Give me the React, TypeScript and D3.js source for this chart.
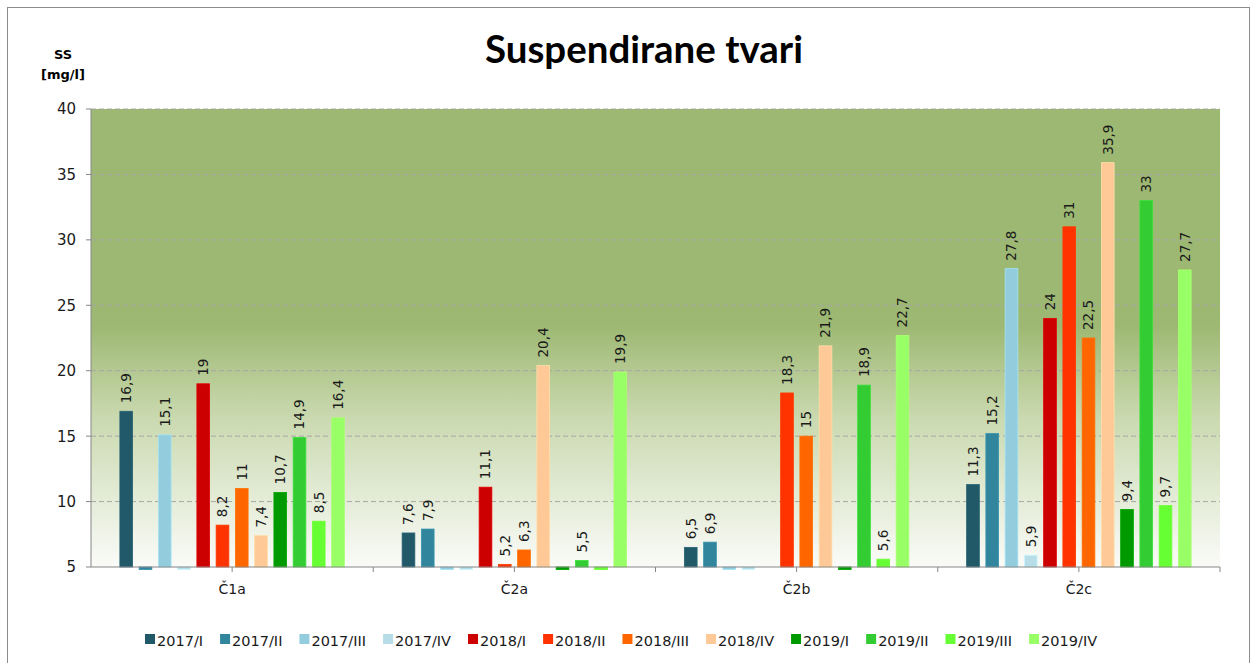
import { useRef, useEffect } from 'react'
import * as d3 from 'd3'

const categories = ['Č1a', 'Č2a', 'Č2b', 'Č2c']
const seriesNames = [
  '2017/I', '2017/II', '2017/III', '2017/IV',
  '2018/I', '2018/II', '2018/III', '2018/IV',
  '2019/I', '2019/II', '2019/III', '2019/IV',
]
const seriesColors = [
  '#215968', '#31859c', '#93cddd', '#b7dee8',
  '#cc0000', '#ff3300', '#ff6600', '#ffc897',
  '#009900', '#33cc33', '#66ff33', '#99ff66',
]

// values per series, one per category (values under 5 sit below the axis minimum)
const v2017I = [16.9, 7.6, 6.5, 11.3]
const v2017II = [4.8, 7.9, 6.9, 15.2]
const v2017III = [15.1, 4.8, 4.8, 27.8]
const v2017IV = [4.8, 4.8, 4.8, 5.9]
const v2018I = [19, 11.1, null, 24]
const v2018II = [8.2, 5.2, 18.3, 31]
const v2018III = [11, 6.3, 15, 22.5]
const v2018IV = [7.4, 20.4, 21.9, 35.9]
const v2019I = [10.7, 4.8, 4.8, 9.4]
const v2019II = [14.9, 5.5, 18.9, 33]
const v2019III = [8.5, 4.8, 5.6, 9.7]
const v2019IV = [16.4, 19.9, 22.7, 27.7]

const seriesValues: (number | null)[][] = [
  v2017I, v2017II, v2017III, v2017IV,
  v2018I, v2018II, v2018III, v2018IV,
  v2019I, v2019II, v2019III, v2019IV,
]

const yTicks = [5, 10, 15, 20, 25, 30, 35, 40]

const W = 1252
const H = 663
const left = 91
const right = 1220
const top = 109
const bottom = 567
const font = '"DejaVu Sans", sans-serif'

const App = () => {
  const ref = useRef<SVGSVGElement>(null)

  useEffect(() => {
    const svg = d3.select(ref.current as SVGSVGElement)
    svg.selectAll('*').remove()

    const y = d3.scaleLinear().domain([5, 40]).range([bottom, top])
    const x0 = d3.scaleBand<string>().domain(categories).range([left, right])
    const x1 = d3
      .scaleBand<string>()
      .domain(seriesNames)
      .range([0, x0.bandwidth()])
      .paddingInner(0.34)
      .paddingOuter(1.5)

    const defs = svg.append('defs')
    const grad = defs
      .append('linearGradient')
      .attr('id', 'bg')
      .attr('x1', 0).attr('y1', 0).attr('x2', 0).attr('y2', 1)
    grad.append('stop').attr('offset', 0).attr('stop-color', '#9db872')
    grad.append('stop').attr('offset', 0.47).attr('stop-color', '#9db872')
    grad.append('stop').attr('offset', 0.68).attr('stop-color', '#cbdab1')
    grad.append('stop').attr('offset', 1).attr('stop-color', '#fafbf8')

    svg.append('rect')
      .attr('x', 7.5).attr('y', 7.5)
      .attr('width', 1242).attr('height', 700)
      .attr('fill', '#fff').attr('stroke', '#8c8c8c')

    svg.append('rect')
      .attr('x', left).attr('y', top)
      .attr('width', right - left).attr('height', bottom - top)
      .attr('fill', 'url(#bg)')

    // gridlines
    svg.append('g')
      .selectAll('line')
      .data(yTicks.filter((t) => t > 5))
      .join('line')
      .attr('x1', left).attr('x2', right)
      .attr('y1', (d) => y(d)).attr('y2', (d) => y(d))
      .attr('stroke', '#a6a6a6')
      .attr('stroke-dasharray', '5,3')

    // bars
    seriesNames.forEach((name, si) => {
      const g = svg.append('g')
      const data = seriesValues[si]
        .map((v, ci) => ({ v, c: categories[ci] }))
        .filter((d) => d.v !== null) as { v: number; c: string }[]
      g.selectAll('rect')
        .data(data)
        .join('rect')
        .attr('x', (d) => (x0(d.c) as number) + (x1(name) as number))
        .attr('width', x1.bandwidth())
        .attr('y', (d) => Math.min(y(d.v), y(5)))
        .attr('height', (d) => Math.abs(y(5) - y(d.v)))
        .attr('fill', seriesColors[si])
        .attr('stroke', d3.color(seriesColors[si])!.brighter(0.3).formatHex())
        .attr('stroke-width', 0.8)

      g.selectAll('text')
        .data(data.filter((d) => d.v >= 5))
        .join('text')
        .attr('transform', (d) => {
          const cx = (x0(d.c) as number) + (x1(name) as number) + x1.bandwidth() / 2
          return `translate(${cx},${y(d.v) - 8}) rotate(-90)`
        })
        .attr('dy', '0.36em')
        .attr('font-family', font)
        .attr('font-size', 13.5)
        .attr('fill', '#1a1a1a')
        .text((d) => String(d.v).replace('.', ','))
    })

    // y axis
    const ya = svg.append('g').attr('stroke', '#868686')
    ya.append('line')
      .attr('x1', left).attr('x2', left).attr('y1', top).attr('y2', bottom)
    ya.selectAll('line.t')
      .data(yTicks)
      .join('line')
      .attr('class', 't')
      .attr('x1', left - 5).attr('x2', left)
      .attr('y1', (d) => y(d)).attr('y2', (d) => y(d))
    svg.append('g')
      .selectAll('text')
      .data(yTicks)
      .join('text')
      .attr('x', 76)
      .attr('y', (d) => y(d))
      .attr('dy', '0.36em')
      .attr('text-anchor', 'end')
      .attr('font-family', font)
      .attr('font-size', 15)
      .attr('fill', '#1a1a1a')
      .text((d) => d)

    // x axis
    const xa = svg.append('g').attr('stroke', '#868686')
    xa.append('line')
      .attr('x1', left).attr('x2', right).attr('y1', bottom).attr('y2', bottom)
    const tickXs = categories.flatMap((c) => [
      (x0(c) as number) + x0.bandwidth() / 2,
      (x0(c) as number) + x0.bandwidth(),
    ])
    xa.selectAll('line.t')
      .data(tickXs)
      .join('line')
      .attr('class', 't')
      .attr('x1', (d) => d).attr('x2', (d) => d)
      .attr('y1', bottom).attr('y2', bottom + 5)
    svg.append('g')
      .selectAll('text')
      .data(categories)
      .join('text')
      .attr('x', (d) => (x0(d) as number) + x0.bandwidth() / 2)
      .attr('y', 589)
      .attr('dy', '0.36em')
      .attr('text-anchor', 'middle')
      .attr('font-family', font)
      .attr('font-size', 14)
      .attr('fill', '#1a1a1a')
      .text((d) => d)

    // axis caption
    svg.append('text')
      .attr('x', 63).attr('y', 59)
      .attr('text-anchor', 'middle')
      .attr('font-family', font).attr('font-weight', 'bold').attr('font-size', 13)
      .text('SS')
    svg.append('text')
      .attr('x', 63).attr('y', 79)
      .attr('text-anchor', 'middle')
      .attr('font-family', font).attr('font-weight', 'bold').attr('font-size', 13)
      .text('[mg/l]')

    // title, fitted to the reference width
    const title = svg.append('text')
      .attr('x', 644).attr('y', 63)
      .attr('text-anchor', 'middle')
      .attr('font-family', 'Lato, "Open Sans", sans-serif')
      .attr('font-weight', 'bold')
      .attr('font-size', 36)
      .attr('fill', '#000')
      .text('Suspendirane tvari')
    const tw = (title.node() as SVGTextElement).getComputedTextLength()
    if (tw > 0) title.attr('font-size', (36 * 318) / tw)

    // legend
    const lg = svg.append('g')
    let lx = 145
    seriesNames.forEach((name, i) => {
      lg.append('rect')
        .attr('x', lx).attr('y', 634)
        .attr('width', 10).attr('height', 10)
        .attr('fill', seriesColors[i])
      const t = lg.append('text')
        .attr('x', lx + 12).attr('y', 640.5)
        .attr('dy', '0.36em')
        .attr('font-family', font)
        .attr('font-size', 14.5)
        .attr('fill', '#1a1a1a')
        .text(name)
      lx += 12 + (t.node() as SVGTextElement).getComputedTextLength() + 17
    })
  }, [])

  return (
    <svg
      ref={ref}
      width={W}
      height={H}
      style={{ position: 'absolute', left: 0, top: 0, display: 'block' }}
    />
  )
}

export default App
